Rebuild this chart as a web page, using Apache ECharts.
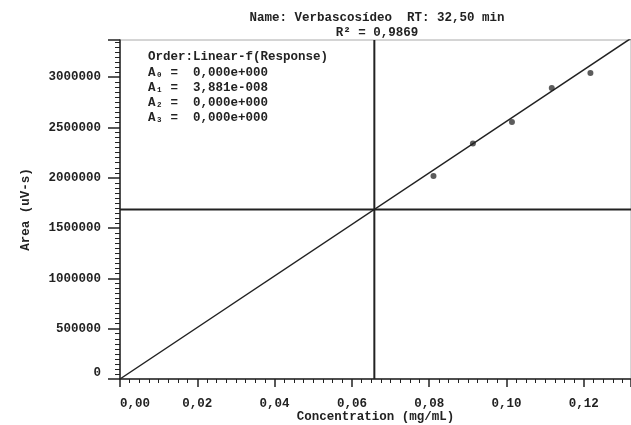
<!DOCTYPE html>
<html>
<head>
<meta charset="utf-8">
<script src="https://cdn.jsdelivr.net/npm/echarts@6/dist/echarts.min.js"></script>
<style>html,body{margin:0;padding:0;background:#fff}#c{width:631px;height:425px}</style>
</head>
<body>
<div id="c"></div>
<script>
// Calibration points (concentration mg/mL, area uV-s)
const concentrations = [0.0811, 0.0913, 0.1014, 0.1117, 0.1217];
const areas = [2017000, 2341000, 2556000, 2894000, 3043000];
// Fit line endpoints
const fitConc = [0, 0.1322];
const fitArea = [0, 3387000];
// Crosshair position
const crossConc = 0.0658;
const crossArea = 1686000;
const titleLines = ['Name: Verbascosídeo  RT: 32,50 min', 'R² = 0,9869'];
const infoLines = ['Order:Linear-f(Response)', 'A₀ =  0,000e+000', 'A₁ =  3,881e-008', 'A₂ =  0,000e+000', 'A₃ =  0,000e+000'];
const xName = 'Concentration (mg/mL)';
const yName = 'Area (uV-s)';
const xMax = 0.1322;
const yMax = 3370000;

const FONT = '"Liberation Mono", "DejaVu Sans Mono", monospace';
const TXT = '#222';
const chart = echarts.init(document.getElementById('c'), null, {renderer: 'canvas'});
const txtStyle = {fontFamily: FONT, fontSize: 12.5, fontWeight: 'bold', color: TXT};

const graphics = [];
titleLines.forEach((t, i) => graphics.push({
  type: 'text', x: 377, y: 18 + i * 15,
  style: {text: t, font: 'bold 12.5px ' + FONT, fill: TXT, align: 'center', verticalAlign: 'middle'}
}));
const infoY = [56.5, 72.5, 87.5, 102.5, 117.5];
infoLines.forEach((t, i) => graphics.push({
  type: 'text', x: 148, y: infoY[i],
  style: {text: t, font: 'bold 12.5px ' + FONT, fill: TXT, align: 'left', verticalAlign: 'middle'}
}));

chart.setOption({
  animation: false,
  backgroundColor: '#fff',
  grid: {left: 120, right: 0, top: 40, bottom: 46, show: true, borderColor: '#aaa', borderWidth: 1,
         containLabel: false, outerBoundsMode: 'none'},
  xAxis: {
    type: 'value', min: 0, max: xMax, interval: 0.02, offset: 2,
    name: xName, nameLocation: 'middle', nameGap: 29, nameMoveOverlap: false, nameTextStyle: txtStyle,
    axisLine: {show: true, lineStyle: {color: '#222', width: 1.5}},
    axisTick: {show: true, length: 8, lineStyle: {color: '#222', width: 1.5}},
    minorTick: {show: true, splitNumber: 8, length: 4, lineStyle: {color: '#222', width: 1}},
    splitLine: {show: false},
    axisLabel: Object.assign({margin: 16, showMaxLabel: false, alignMinLabel: 'left',
      formatter: v => v.toFixed(2).replace('.', ',')}, txtStyle)
  },
  yAxis: {
    type: 'value', min: 0, max: yMax, interval: 500000,
    name: yName, nameLocation: 'middle', nameGap: 88, nameMoveOverlap: false, nameRotate: 90, nameTextStyle: txtStyle,
    axisLine: {show: true, lineStyle: {color: '#222', width: 1.5}},
    axisTick: {show: true, length: 12, lineStyle: {color: '#222', width: 1.5}},
    minorTick: {show: true, splitNumber: 10, length: 5, lineStyle: {color: '#222', width: 1}},
    splitLine: {show: false},
    axisLabel: Object.assign({margin: 19, showMaxLabel: false, verticalAlignMinLabel: 'bottom',
      formatter: v => String(Math.round(v))}, txtStyle)
  },
  series: [
    {
      type: 'line', data: fitConc.map((c, i) => [c, fitArea[i]]), showSymbol: false, clip: true,
      lineStyle: {color: '#222', width: 1.5}, silent: true
    },
    {
      type: 'line', data: [[crossConc, 0], [crossConc, yMax]], showSymbol: false, clip: true,
      lineStyle: {color: '#222', width: 2}, silent: true
    },
    {
      type: 'line', data: [[0, crossArea], [xMax, crossArea]], showSymbol: false, clip: true,
      lineStyle: {color: '#222', width: 2}, silent: true
    },
    {
      type: 'scatter', data: concentrations.map((c, i) => [c, areas[i]]),
      symbol: 'circle', symbolSize: 6, itemStyle: {color: '#333'}
    }
  ],
  graphic: graphics
});
</script>
</body>
</html>
